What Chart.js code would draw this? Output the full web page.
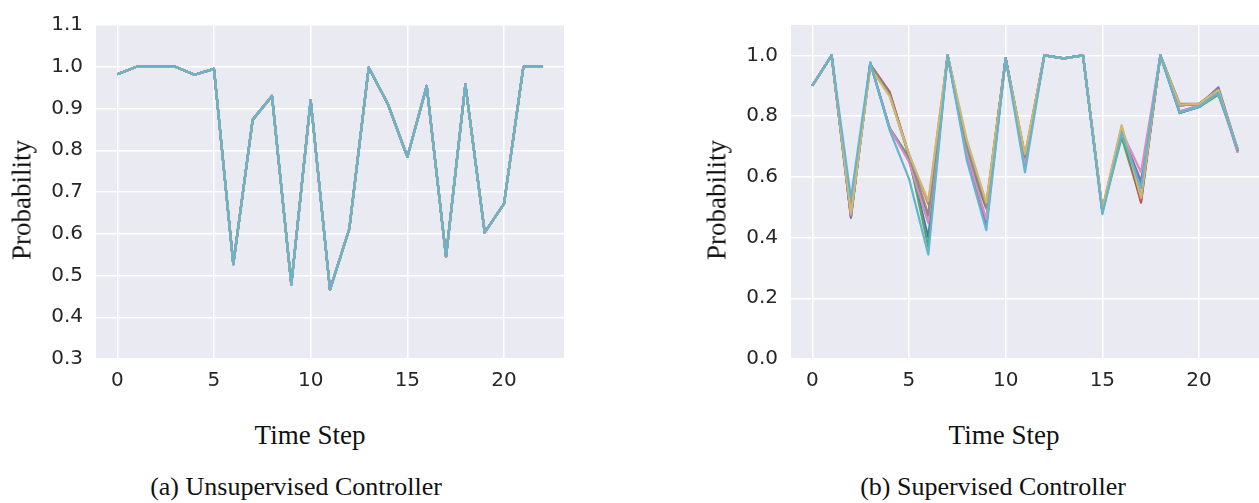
<!DOCTYPE html>
<html>
<head>
<meta charset="utf-8">
<script src="https://cdn.jsdelivr.net/npm/chart.js@4.4.1/dist/chart.umd.min.js"></script>
<style>
  html, body { margin: 0; padding: 0; background: #ffffff; width: 1259px; height: 503px; overflow: hidden; }
  .wrap { position: absolute; top: 0; }
  .lbl { position: absolute; font-family: "Liberation Serif", "DejaVu Serif", serif; color: #111; white-space: nowrap; line-height: 1; }
  .ylbl { transform: translate(-50%, -50%) rotate(-90deg); }
  .xlbl { transform: translateX(-50%); }
</style>
</head>
<body>
<div class="wrap" style="left:0px;width:564px;height:400px;"><canvas id="chartA" width="564" height="400"></canvas></div>
<div class="wrap" style="left:695px;width:564px;height:400px;"><canvas id="chartB" width="564" height="400"></canvas></div>

<div class="lbl ylbl" style="left:22px;top:200px;font-size:27px;">Probability</div>
<div class="lbl ylbl" style="left:717px;top:200px;font-size:27px;">Probability</div>
<div class="lbl xlbl" style="left:310px;top:422px;font-size:27px;">Time Step</div>
<div class="lbl xlbl" style="left:1004px;top:422px;font-size:27px;">Time Step</div>
<div class="lbl xlbl" style="left:296px;top:474px;font-size:26px;">(a) Unsupervised Controller</div>
<div class="lbl xlbl" style="left:993px;top:474px;font-size:26px;">(b) Supervised Controller</div>

<script>
// ---- Data ----
const timeSteps = [0,1,2,3,4,5,6,7,8,9,10,11,12,13,14,15,16,17,18,19,20,21,22];

// (a) Unsupervised: all runs coincide
const unsupervisedRun = [0.982,1.0,1.0,1.0,0.981,0.995,0.527,0.873,0.930,0.479,0.920,0.466,0.612,0.998,0.910,0.784,0.954,0.545,0.958,0.603,0.672,1.0,1.0];

// (b) Supervised: ten runs
const supRun0 = [0.90,1.0,0.47,0.975,0.76,0.66,0.40,1.0,0.67,0.45,0.99,0.64,1.0,0.99,1.0,0.49,0.75,0.57,1.0,0.81,0.83,0.875,0.69];
const supRun1 = [0.90,1.0,0.49,0.965,0.875,0.675,0.51,1.0,0.71,0.51,0.99,0.67,1.0,0.99,1.0,0.49,0.765,0.53,1.0,0.835,0.84,0.885,0.685];
const supRun2 = [0.90,1.0,0.48,0.975,0.76,0.665,0.37,1.0,0.67,0.495,0.99,0.65,1.0,0.99,1.0,0.485,0.73,0.52,1.0,0.81,0.83,0.87,0.69];
const supRun3 = [0.90,1.0,0.47,0.97,0.88,0.67,0.47,1.0,0.70,0.50,0.99,0.665,1.0,0.99,1.0,0.49,0.76,0.515,1.0,0.835,0.84,0.89,0.68];
const supRun4 = [0.90,1.0,0.465,0.975,0.76,0.655,0.45,1.0,0.68,0.44,0.99,0.645,1.0,0.99,1.0,0.485,0.745,0.585,1.0,0.815,0.835,0.895,0.69];
const supRun5 = [0.90,1.0,0.48,0.97,0.875,0.67,0.46,1.0,0.70,0.50,0.99,0.665,1.0,0.99,1.0,0.49,0.76,0.53,1.0,0.84,0.84,0.885,0.685];
const supRun6 = [0.90,1.0,0.475,0.975,0.76,0.65,0.45,1.0,0.675,0.46,0.99,0.645,1.0,0.99,1.0,0.485,0.75,0.615,1.0,0.815,0.835,0.88,0.68];
const supRun7 = [0.90,1.0,0.48,0.97,0.87,0.67,0.475,1.0,0.70,0.505,0.99,0.665,1.0,0.99,1.0,0.49,0.76,0.535,1.0,0.835,0.84,0.885,0.685];
const supRun8 = [0.90,1.0,0.478,0.96,0.866,0.675,0.52,1.0,0.72,0.515,0.985,0.675,1.0,0.99,1.0,0.495,0.77,0.53,1.0,0.838,0.84,0.886,0.69];
const supRun9 = [0.90,1.0,0.53,0.977,0.754,0.594,0.344,1.0,0.652,0.424,0.99,0.615,1.0,0.99,1.0,0.477,0.743,0.563,1.0,0.812,0.831,0.876,0.69];

const leftYTicks = { min: 0.3, max: 1.1, step: 0.1 };
const rightYTicks = { min: 0.0, max: 1.1, step: 0.2 };

const palette = ['#4C72B0','#DD8452','#55A868','#C44E52','#8172B3','#937860','#DA8BC3','#8C8C8C','#CCB974','#64B5CD'];

// ---- Chart helpers ----
const bgPlugin = {
  id: 'plotBg',
  beforeDraw(chart) {
    const { ctx, chartArea: a } = chart;
    ctx.save();
    ctx.fillStyle = '#EAEAF2';
    ctx.fillRect(a.left, a.top, a.right - a.left, a.bottom - a.top);
    ctx.restore();
  }
};

function makeDatasets(runs) {
  return runs.map((r, i) => ({
    data: r,
    order: runs.length - 1 - i,   // later runs drawn on top, as in the reference
    borderColor: palette[i],
    backgroundColor: palette[i],
    borderWidth: 2.2,
    borderJoinStyle: 'round',
    borderCapStyle: 'butt',
    pointRadius: 0,
    tension: 0,
    fill: false
  }));
}

function makeOptions(yt) {
  const tickFont = { family: 'DejaVu Sans', size: 20 };
  return {
    responsive: false,
    animation: false,
    events: [],
    layout: { padding: { top: 15, right: 0, left: 0, bottom: 0 } },
    plugins: { legend: { display: false }, tooltip: { enabled: false } },
    scales: {
      x: {
        type: 'linear',
        min: -1.1,
        max: 23.1,
        grid: { color: '#ffffff', lineWidth: 1.5, drawTicks: false },
        border: { display: false },
        ticks: { stepSize: 5, includeBounds: false, padding: 10, color: '#262626', font: tickFont,
                 callback: v => String(v) },
        afterFit(s) { s.height = 41; }
      },
      y: {
        type: 'linear',
        min: yt.min,
        max: yt.max,
        grid: { color: '#ffffff', lineWidth: 1.5, drawTicks: false },
        border: { display: false },
        ticks: { stepSize: yt.step, includeBounds: false, padding: 13, color: '#262626', font: tickFont,
                 callback: v => Number(v).toFixed(1) },
        afterFit(s) { s.width = 96; }
      }
    }
  };
}

new Chart(document.getElementById('chartA'), {
  type: 'line',
  data: {
    labels: timeSteps,
    datasets: makeDatasets(palette.map(() => unsupervisedRun))
  },
  options: makeOptions(leftYTicks),
  plugins: [bgPlugin]
});

new Chart(document.getElementById('chartB'), {
  type: 'line',
  data: {
    labels: timeSteps,
    datasets: makeDatasets([supRun0, supRun1, supRun2, supRun3, supRun4, supRun5, supRun6, supRun7, supRun8, supRun9])
  },
  options: makeOptions(rightYTicks),
  plugins: [bgPlugin]
});
</script>
</body>
</html>
